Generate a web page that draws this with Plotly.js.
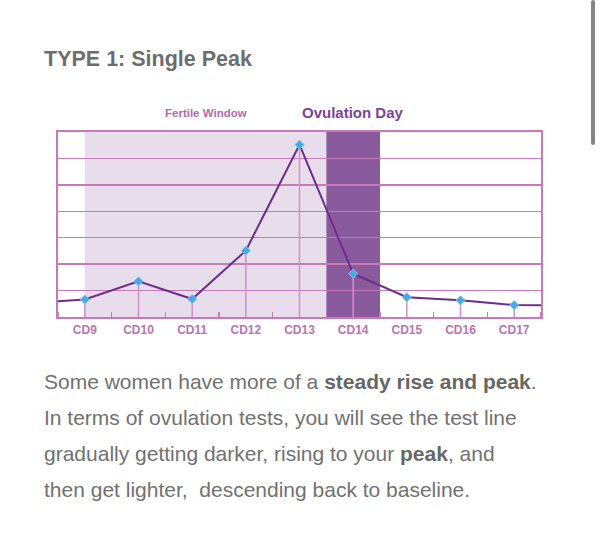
<!DOCTYPE html>
<html>
<head>
<meta charset="utf-8">
<script src="https://cdn.plot.ly/plotly-3.0.1.min.js"></script>
<style>
  body { margin: 0; background: #fff; font-family: "Liberation Sans", Arial, sans-serif; }
  #wrap { position: relative; width: 600px; height: 552px; overflow: hidden; }
  #plot { position: absolute; left: 0; top: 0; width: 600px; height: 552px; }
  #txt {
    position: absolute; left: 44px; top: 364px; width: 556px;
    font-size: 21px; line-height: 36px; color: #717171; white-space: nowrap;
  }
  #txt b { color: #676767; }
  #scroll { position: absolute; left: 591px; top: 0; width: 4px; height: 145px; background: #858585; border-radius: 2px; }
</style>
</head>
<body>
<div id="wrap">
  <div id="plot"></div>
  <div id="txt">
    Some women have more of a <b>steady rise and peak</b>.<br>
    In terms of ovulation tests, you will see the test line<br>
    gradually getting darker, rising to your <b>peak</b>, and<br>
    then get lighter,&nbsp; descending back to baseline.
  </div>
  <div id="scroll"></div>
</div>
<script>
// cycle days shown on the chart
var days = [9, 10, 11, 12, 13, 14, 15, 16, 17]
var dayLabels = ['CD9', 'CD10', 'CD11', 'CD12', 'CD13', 'CD14', 'CD15', 'CD16', 'CD17']
// LH test reading for each day
var lhValues = [0.66, 1.35, 0.68, 2.51, 6.52, 1.64, 0.75, 0.63, 0.45]

// the line runs on past the first and last day to the chart edges
var edgeDays = [8.5, 17.5]
var edgeValues = [0.6, 0.44]

// shaded windows
var fertileWindow = [9, 13.5]
var ovulationDay = [13.5, 14.5]

var pink = '#c87ab8'

var lineX = [edgeDays[0]].concat(days, [edgeDays[1]])
var lineY = [edgeValues[0]].concat(lhValues, [edgeValues[1]])

var data = [
  {
    x: lineX, y: lineY,
    mode: 'lines', type: 'scatter',
    line: {color: '#6b2d8b', width: 2},
    hoverinfo: 'skip'
  },
  {
    x: days, y: lhValues,
    mode: 'markers', type: 'scatter',
    marker: {symbol: 'diamond', size: 7, color: '#4aa9e2', line: {color: '#7cc3ee', width: 1}},
    // stems from each reading down to the axis
    error_y: {
      type: 'data', symmetric: false,
      array: lhValues.map(function () { return 0 }),
      arrayminus: lhValues,
      width: 0, thickness: 1.5, color: '#d48ec6'
    }
  }
]

var layout = {
  width: 600, height: 552,
  margin: {l: 58, r: 59, t: 132, b: 235},
  paper_bgcolor: 'rgba(0,0,0,0)',
  plot_bgcolor: '#fff',
  showlegend: false,
  font: {family: 'Liberation Sans, Arial, sans-serif'},
  title: {
    text: '<b>TYPE 1: Single Peak</b>',
    font: {size: 21.5, color: '#6d6d6d'},
    x: 44 / 600, xanchor: 'left', xref: 'container',
    y: 1 - 58 / 552, yanchor: 'middle', yref: 'container'
  },
  xaxis: {
    range: [8.5, 17.5],
    tickmode: 'array', tickvals: days, ticktext: dayLabels,
    ticks: 'outside', ticklen: 1, tickcolor: 'rgba(0,0,0,0)',
    tickfont: {size: 12, color: '#b874b0', family: 'Liberation Sans, Arial, sans-serif', weight: 'bold'},
    showgrid: false, zeroline: false,
    showline: true, mirror: true, linecolor: pink, linewidth: 2,
    minor: {tickmode: 'linear', tick0: 9.5, dtick: 1, ticks: 'inside', ticklen: 5, tickwidth: 1.5, tickcolor: pink, showgrid: false},
    fixedrange: true
  },
  yaxis: {
    range: [0, 7], dtick: 1,
    showticklabels: false, ticks: '',
    showgrid: true, gridcolor: pink, gridwidth: 1.5,
    zeroline: false,
    showline: true, mirror: true, linecolor: pink, linewidth: 2,
    fixedrange: true
  },
  shapes: [
    {type: 'rect', xref: 'x', yref: 'paper', x0: fertileWindow[0], x1: fertileWindow[1], y0: 0, y1: 1,
     fillcolor: '#e8ddeb', line: {width: 0}, layer: 'below'},
    {type: 'rect', xref: 'x', yref: 'paper', x0: ovulationDay[0], x1: ovulationDay[1], y0: 0, y1: 1,
     fillcolor: '#8a5b9c', line: {width: 0}, layer: 'below'}
  ],
  annotations: [
    {text: '<b>Fertile Window</b>', xref: 'x', yref: 'paper',
     x: (fertileWindow[0] + fertileWindow[1]) / 2, y: 1, yanchor: 'middle', yshift: 19,
     showarrow: false, font: {size: 11.5, color: '#b56aa8'}},
    {text: '<b>Ovulation Day</b>', xref: 'x', yref: 'paper',
     x: (ovulationDay[0] + ovulationDay[1]) / 2, y: 1, yanchor: 'middle', yshift: 20,
     showarrow: false, font: {size: 15, color: '#7d4496'}}
  ]
}

Plotly.newPlot('plot', data, layout, {displayModeBar: false, staticPlot: true})
</script>
</body>
</html>
